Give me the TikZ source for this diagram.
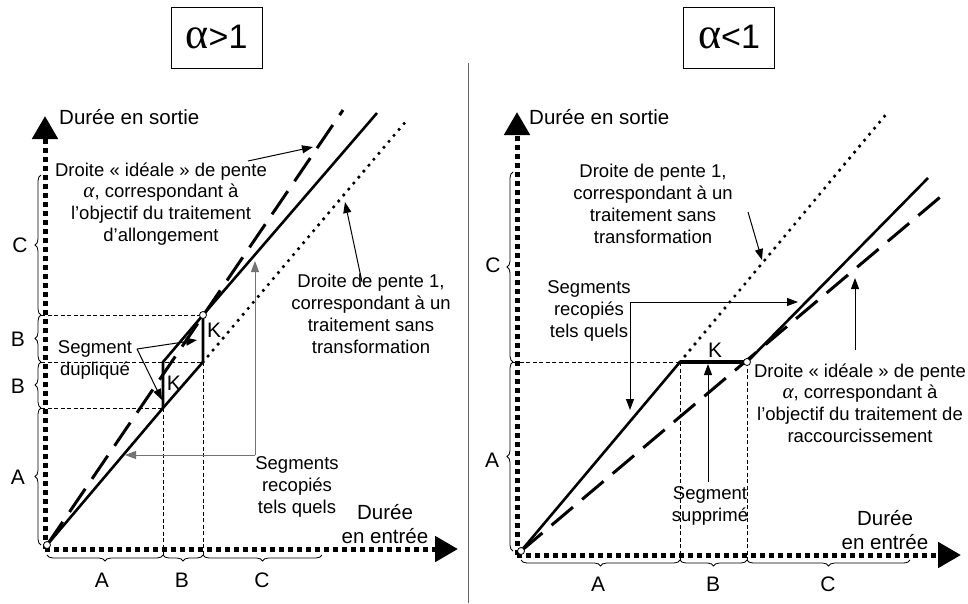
\documentclass[tikz,border=0pt]{standalone}
\usepackage{fontspec}
\setmainfont{Liberation Sans}
\newfontfamily\grkfont{Liberation Serif}
\newcommand{\alp}{{\grkfont\itshape\fontsize{21}{21.5}\selectfont α}}
\usetikzlibrary{arrows.meta,decorations.pathreplacing}
\begin{document}
\begin{tikzpicture}[x=1pt,y=-1pt,
 txt/.style={font=\fontsize{18.5}{21.8}\selectfont, align=center, inner sep=0pt},
 axt/.style={font=\fontsize{20.5}{24}\selectfont, align=center, inner sep=0pt},
 bl/.style={font=\fontsize{21}{24}\selectfont, inner sep=0pt},
 ttl/.style={draw, line width=1pt, font=\fontsize{34}{38}\selectfont, minimum width=91pt, minimum height=61pt, inner sep=0pt},
 axisl/.style={line width=5pt, dash pattern=on 5pt off 4pt, -{Triangle[length=23pt,width=25pt]}},
 guide/.style={line width=0.8pt, dash pattern=on 4pt off 2.5pt},
 outl/.style={line width=2.6pt, line join=miter},
 ideal/.style={line width=3pt, dash pattern=on 28pt off 12pt},
 unitl/.style={line width=3.6pt, line cap=round, dash pattern=on 0pt off 7.8pt},
 ptr/.style={line width=1pt, -{Triangle[length=11pt,width=8pt]}},
 gptr/.style={ptr, draw=black!55, fill=black!55},
 brc/.style={decorate, decoration={brace, amplitude=6pt}, line width=0.8pt},
 dot/.style={circle, draw, fill=white, line width=0.8pt, inner sep=0pt, minimum size=7pt},
]
\useasboundingbox (0,0) rectangle (968,603);
% divider
\draw[line width=1pt, black!60] (468,63) -- (468,603);
% titles
\node[ttl] (t1) at (216.5,37.5) {{\grkfont\fontsize{44}{44}\selectfont α}>1};
\node[ttl] (t2) at (729,37.5) {{\grkfont\fontsize{44}{44}\selectfont α}<1};

%================ LEFT PANEL
\coordinate (LC) at (45,549);
\coordinate (LYt) at (45,116);
\coordinate (LXt) at (458,549);
\coordinate (LO) at (47,545);
\coordinate (P1) at (163,408);
\coordinate (P2) at (203,362);
\coordinate (P3) at (163,362);
\coordinate (P4) at (203,315);
\coordinate (LSend) at (377,113);
\coordinate (LUend) at (407,120);
\coordinate (LIend) at (343,110);
% guides
\draw[guide] (41,315) -- (P4);
\draw[guide] (41,362) -- (P2);
\draw[guide] (41,408) -- (P1);
\draw[guide] (P1) -- (163,556);
\draw[guide] (P2) -- (203,556);
% braces
\draw[brc] (41,545) -- (41,408);
\draw[brc] (41,408) -- (41,362);
\draw[brc] (41,362) -- (41,315);
\draw[brc] (41,315) -- (41,175);
\draw[brc] (163,555) -- (47,555);
\draw[brc] (203,555) -- (163,555);
\draw[brc] (322,555) -- (203,555);
\node[bl] (la1) at (18,477) {A};
\node[bl] (lb1) at (18,386) {B};
\node[bl] (lb2) at (18,339) {B};
\node[bl] (lc1) at (20,245) {C};
\node[bl] (la2) at (102,580) {A};
\node[bl] (lb3) at (182,580) {B};
\node[bl] (lc2) at (262,580) {C};
% axes
\draw[axisl] (LC) -- (LYt);
\draw[axisl] (LC) -- (LXt);
% curves
\draw[unitl] (P2) -- (LUend);
\draw[ideal] (LO) -- (LIend);
\draw[outl] (LO) -- (P1) -- (P2) -- (P4) -- (LSend);
\draw[outl] (P1) -- (P3) -- (P4);
\node[dot] at (LO) {};
\node[dot] at (P4) {};
% texts
\node[axt, anchor=west] (lys) at (59,117) {Durée en sortie};
\node[axt] (lxe) at (385,524) {Durée\\en entrée};
\node[txt] (lid) at (161,204) {Droite « idéale » de pente\\\alp, correspondant à\\l’objectif du traitement\\d’allongement};
\node[txt] (lun) at (371,314) {Droite de pente 1,\\correspondant à un\\traitement sans\\transformation};
\node[txt] (lsr) at (297,487) {Segments\\recopiés\\tels quels};
\node[txt] (lsd) at (95,360) {Segment\\dupliqué};
\node[bl] (lk1) at (214,330) {K};
\node[bl] (lk2) at (174,383) {K};
% pointers
\coordinate (a1s) at (248,161); \coordinate (a1e) at (313,147);
\draw[ptr] (a1s) -- (a1e);
\coordinate (a2s) at (362,282); \coordinate (a2e) at (345,202);
\draw[ptr] (a2s) -- (a2e);
\coordinate (gc) at (255,455); \coordinate (gu) at (255,261); \coordinate (gl) at (125,455);
\draw[gptr] (gc) -- (gu);
\draw[gptr] (gc) -- (gl);
\coordinate (ds) at (137,349); \coordinate (de1) at (197,340); \coordinate (de2) at (162,400);
\draw[ptr] (ds) -- (de1);
\draw[ptr] (ds) -- (de2);

%================ RIGHT PANEL
\coordinate (RC) at (517,555);
\coordinate (RYt) at (517,112);
\coordinate (RXt) at (961,555);
\coordinate (RO) at (521,551);
\coordinate (Q1) at (680,362);
\coordinate (Q2) at (747,362);
\coordinate (RSend) at (928,178);
\coordinate (RUend) at (888,112);
\coordinate (RIend) at (945,193);
% guides
\draw[guide] (513,362) -- (Q1);
\draw[guide] (Q1) -- (680,561);
\draw[guide] (Q2) -- (747,561);
% braces
\draw[brc] (513,551) -- (513,362);
\draw[brc] (513,362) -- (513,172);
\draw[brc] (680,560) -- (521,560);
\draw[brc] (747,560) -- (680,560);
\draw[brc] (910,560) -- (747,560);
\node[bl] (ra1) at (492,460) {A};
\node[bl] (rc1) at (493,265) {C};
\node[bl] (ra2) at (598,584) {A};
\node[bl] (rb2) at (713,584) {B};
\node[bl] (rc2) at (828,584) {C};
% axes
\draw[axisl] (RC) -- (RYt);
\draw[axisl] (RC) -- (RXt);
% curves
\draw[unitl] (Q1) -- (RUend);
\draw[ideal] (RO) -- (RIend);
\draw[outl] (RO) -- (Q1);
\draw[line width=3.2pt] (Q1) -- (Q2);
\draw[outl] (Q2) -- (RSend);
\node[dot] at (RO) {};
\node[dot] at (Q2) {};
% texts
\node[axt, anchor=west] (rys) at (529,117) {Durée en sortie};
\node[axt] (rxe) at (885,530) {Durée\\en entrée};
\node[txt] (run) at (653,204) {Droite de pente 1,\\correspondant à un\\traitement sans\\transformation};
\node[txt] (rsr) at (589,311) {Segments\\recopiés\\tels quels};
\node[bl] (rk) at (715,350) {K};
\node[txt] (rss) at (710,506) {Segment\\supprimé};
\node[txt] (rid) at (860,403) {Droite « idéale » de pente\\\alp, correspondant à\\l’objectif du traitement de\\raccourcissement};
% pointers
\coordinate (b1s) at (748,212); \coordinate (b1e) at (762,260);
\draw[ptr] (b1s) -- (b1e);
\coordinate (rc) at (630,302); \coordinate (rr) at (798,302); \coordinate (rd) at (630,410);
\draw[ptr] (rc) -- (rr);
\draw[ptr] (rc) -- (rd);
\coordinate (b2s) at (708,482); \coordinate (b2e) at (708,364);
\draw[ptr] (b2s) -- (b2e);
\coordinate (b3s) at (855,350); \coordinate (b3e) at (855,278);
\draw[ptr] (b3s) -- (b3e);
\end{tikzpicture}
\end{document}
